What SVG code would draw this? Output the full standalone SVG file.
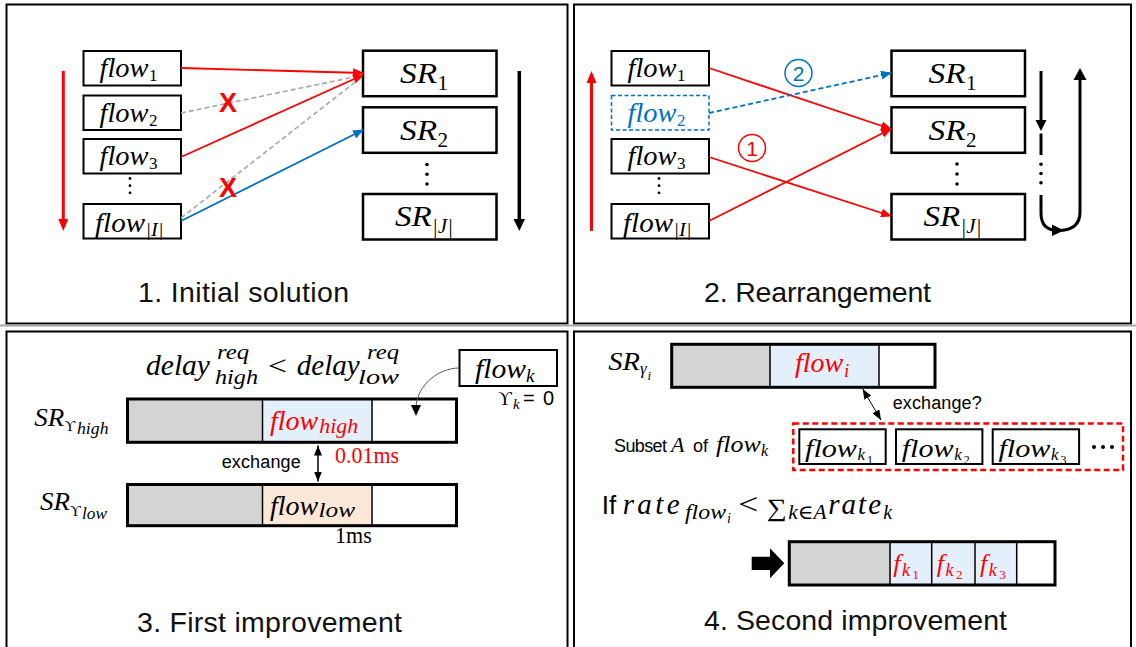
<svg xmlns="http://www.w3.org/2000/svg" width="1136" height="647" viewBox="0 0 1136 647">
<style>
.frame{fill:#fff;stroke:#000;stroke-width:2}
.box{fill:#fff;stroke:#000;stroke-width:2}
.srbox{fill:#fff;stroke:#000;stroke-width:2.5}
.m{font-family:"Liberation Serif","DejaVu Serif",serif;font-style:italic;fill:#000}
.u{font-family:"Liberation Serif","DejaVu Serif",serif;font-style:normal;fill:#000}
.s{font-family:"Liberation Sans",Arial,sans-serif;fill:#000}
.title{font-family:"Liberation Sans",Arial,sans-serif;font-size:28.5px;fill:#111}
.red{stroke:#ff0000;stroke-width:1.8;fill:none}
.blue{stroke:#0070c0;stroke-width:1.8;fill:none}
.gray{stroke:#a6a6a6;stroke-width:1.6;stroke-dasharray:5 3;fill:none}
.bar{fill:none;stroke:#000;stroke-width:3}
.div{stroke:#000;stroke-width:1.5}
.g{fill:#d4d4d4}
.lb{fill:#e3effa}
.pe{fill:#fce8d8}
.xm{font-family:"Liberation Sans",Arial,sans-serif;font-weight:bold;font-size:27px;fill:#ff0000}
</style>
<defs>
<marker id="ahr" markerUnits="userSpaceOnUse" markerWidth="11" markerHeight="9" refX="10" refY="4.5" orient="auto"><path d="M0,0 L11,4.5 L0,9 z" fill="#ff0000"/></marker>
<marker id="ahb" markerUnits="userSpaceOnUse" markerWidth="11" markerHeight="9" refX="10" refY="4.5" orient="auto"><path d="M0,0 L11,4.5 L0,9 z" fill="#0070c0"/></marker>
<marker id="ahk" markerUnits="userSpaceOnUse" markerWidth="10" markerHeight="8" refX="10" refY="4" orient="auto"><path d="M0,0 L10,4 L0,8 z" fill="#000"/></marker>
<marker id="ahks" markerUnits="userSpaceOnUse" markerWidth="10" markerHeight="8" refX="0" refY="4" orient="auto"><path d="M10,0 L0,4 L10,8 z" fill="#000"/></marker>
</defs>
<rect width="1136" height="647" fill="#fff"/>

<g id="frames">
<rect class="frame" x="6.5" y="4.5" width="561" height="319"/>
<rect class="frame" x="574" y="4.5" width="557" height="319"/>
<line x1="0" y1="325.5" x2="1136" y2="325.5" stroke="#a8a8a8" stroke-width="2"/>
<rect class="frame" x="6.5" y="331.5" width="561" height="330"/>
<rect class="frame" x="574" y="331.5" width="557" height="330"/>
</g>

<!-- ===== Panel 1 ===== -->
<g id="p1-flow1"><rect class="box" x="83.5" y="51" width="97.5" height="34.5"/><text class="m" x="99.5" y="77" font-size="27" textLength="49" lengthAdjust="spacingAndGlyphs">flow</text><text class="u" x="149" y="81" font-size="17">1</text></g>
<g id="p1-flow2"><rect class="box" x="83.5" y="95.5" width="97.5" height="34.5"/><text class="m" x="99.5" y="121.5" font-size="27" textLength="49" lengthAdjust="spacingAndGlyphs">flow</text><text class="u" x="149" y="125.5" font-size="17">2</text></g>
<g id="p1-flow3"><rect class="box" x="83.5" y="139" width="97.5" height="34.5"/><text class="m" x="99.5" y="165" font-size="27" textLength="49" lengthAdjust="spacingAndGlyphs">flow</text><text class="u" x="149" y="169" font-size="17">3</text></g>
<g id="p1-dots-l"><circle cx="130" cy="178.5" r="1.4"/><circle cx="130" cy="185.7" r="1.4"/><circle cx="130" cy="192.8" r="1.4"/></g>
<g id="p1-flowI"><rect class="box" x="83.5" y="204" width="97.5" height="34.5"/><text class="m" x="95" y="231.5" font-size="27" textLength="50" lengthAdjust="spacingAndGlyphs">flow</text><text class="m" x="145.5" y="236" font-size="18" textLength="18" lengthAdjust="spacingAndGlyphs">|I|</text></g>

<g id="p1-SR1"><rect class="srbox" x="363" y="50.7" width="133.5" height="45.5" stroke="#ff0000"/><text class="m" x="400" y="83" font-size="29" textLength="37" lengthAdjust="spacingAndGlyphs">SR</text><text class="u" x="437.5" y="90" font-size="21">1</text></g>
<g id="p1-SR2"><rect class="srbox" x="363" y="107.3" width="133.5" height="45.5" stroke="#0070c0"/><text class="m" x="400" y="139.6" font-size="29" textLength="37" lengthAdjust="spacingAndGlyphs">SR</text><text class="u" x="437.5" y="146.6" font-size="21">2</text></g>
<g id="p1-dots-r"><circle cx="427" cy="164.5" r="1.8"/><circle cx="427" cy="174.3" r="1.8"/><circle cx="427" cy="184" r="1.8"/></g>
<g id="p1-SRJ"><rect class="srbox" x="363" y="194" width="133.5" height="45.5"/><text class="m" x="395" y="225.5" font-size="29" textLength="36.7" lengthAdjust="spacingAndGlyphs">SR</text><text class="m" x="432" y="233" font-size="21" textLength="21" lengthAdjust="spacingAndGlyphs">|J|</text></g>

<g id="p1-connectors">
<line class="gray" x1="181" y1="113" x2="361" y2="75.5"/>
<line class="gray" x1="181" y1="218" x2="361" y2="77.5"/>
<line class="red" x1="181" y1="68" x2="363" y2="73" marker-end="url(#ahr)"/>
<line class="red" x1="181" y1="157" x2="363" y2="75" marker-end="url(#ahr)"/>
<line class="blue" x1="181" y1="221" x2="363" y2="130" marker-end="url(#ahb)"/>
<line x1="63.3" y1="71" x2="63.3" y2="220" stroke="#ff0000" stroke-width="3"/>
<polygon points="58.3,219 68.3,219 63.3,231" fill="#ff0000"/>
<line x1="519.3" y1="71" x2="519.3" y2="220" stroke="#000" stroke-width="3.5"/>
<polygon points="513.5,219 525,219 519.3,231" fill="#000"/>
</g>
<g id="p1-marks">
<text class="xm" x="228" y="111.5" text-anchor="middle">X</text>
<text class="xm" x="228" y="196.5" text-anchor="middle">X</text>
</g>
<text class="title" x="138" y="301.5" textLength="211">1. Initial solution</text>

<!-- ===== Panel 2 ===== -->
<g id="p2-flow1"><rect class="box" x="611.5" y="51" width="97.5" height="34.5"/><text class="m" x="627.5" y="77" font-size="27" textLength="49" lengthAdjust="spacingAndGlyphs">flow</text><text class="u" x="677" y="81" font-size="17">1</text></g>
<g id="p2-flow2"><rect x="611.5" y="95.5" width="97.5" height="34.5" fill="#fff" stroke="#0070c0" stroke-width="1.5" stroke-dasharray="4 2.5"/><text class="m" x="627.5" y="121.5" font-size="27" textLength="49" lengthAdjust="spacingAndGlyphs" style="fill:#0070c0">flow</text><text class="u" x="677" y="125.5" font-size="17" style="fill:#0070c0">2</text></g>
<g id="p2-flow3"><rect class="box" x="611.5" y="139" width="97.5" height="34.5"/><text class="m" x="627.5" y="165" font-size="27" textLength="49" lengthAdjust="spacingAndGlyphs">flow</text><text class="u" x="677" y="169" font-size="17">3</text></g>
<g id="p2-dots-l"><circle cx="659" cy="178.5" r="1.4"/><circle cx="659" cy="185.7" r="1.4"/><circle cx="659" cy="192.8" r="1.4"/></g>
<g id="p2-flowI"><rect class="box" x="611.5" y="204" width="97.5" height="34.5"/><text class="m" x="623" y="231.5" font-size="27" textLength="50" lengthAdjust="spacingAndGlyphs">flow</text><text class="m" x="673.5" y="236" font-size="18" textLength="18" lengthAdjust="spacingAndGlyphs">|I|</text></g>

<g id="p2-SR1"><rect class="srbox" x="891.5" y="50.7" width="133.5" height="45.5"/><text class="m" x="928.5" y="83" font-size="29" textLength="37" lengthAdjust="spacingAndGlyphs">SR</text><text class="u" x="966" y="90" font-size="21">1</text></g>
<g id="p2-SR2"><rect class="srbox" x="891.5" y="107.3" width="133.5" height="45.5"/><text class="m" x="928.5" y="139.6" font-size="29" textLength="37" lengthAdjust="spacingAndGlyphs">SR</text><text class="u" x="966" y="146.6" font-size="21">2</text></g>
<g id="p2-dots-r"><circle cx="957" cy="164" r="1.8"/><circle cx="957" cy="174" r="1.8"/><circle cx="957" cy="184" r="1.8"/></g>
<g id="p2-SRJ"><rect class="srbox" x="891.5" y="194" width="133.5" height="45.5"/><text class="m" x="923.5" y="225.5" font-size="29" textLength="36.7" lengthAdjust="spacingAndGlyphs">SR</text><text class="m" x="960.5" y="233" font-size="21" textLength="21" lengthAdjust="spacingAndGlyphs">|J|</text></g>

<g id="p2-connectors">
<line class="red" x1="709" y1="68" x2="891" y2="129" marker-end="url(#ahr)"/>
<line class="red" x1="709" y1="157" x2="891" y2="216" marker-end="url(#ahr)"/>
<line class="red" x1="709" y1="221" x2="891" y2="129" marker-end="url(#ahr)"/>
<line class="blue" x1="709" y1="113" x2="891" y2="73" stroke-dasharray="5 3" marker-end="url(#ahb)"/>
<line x1="591.5" y1="231" x2="591.5" y2="82" stroke="#ff0000" stroke-width="3"/>
<polygon points="586.5,83 596.5,83 591.5,71" fill="#ff0000"/>
<line x1="1041" y1="71" x2="1041" y2="121" stroke="#000" stroke-width="3"/>
<polygon points="1035.5,120 1046.5,120 1041,131" fill="#000"/>
<line x1="1041" y1="133.5" x2="1041" y2="155" stroke="#000" stroke-width="3"/>
<circle cx="1041" cy="164.3" r="1.8"/><circle cx="1041" cy="173.5" r="1.8"/><circle cx="1041" cy="182.7" r="1.8"/>
<path d="M1041,195 L1041,213 Q1041,230.5 1058,230.5 Q1080,230.5 1080,212 L1080,79" fill="none" stroke="#000" stroke-width="3"/>
<polygon points="1073.5,80 1086.5,80 1080,68" fill="#000"/>
<polygon points="1052,224.5 1064,230.5 1052,236" fill="#000"/>
</g>
<g id="p2-badge2"><circle cx="798.5" cy="73" r="13.5" fill="none" stroke="#0070c0" stroke-width="1.5"/><text class="s" x="798.5" y="80.5" font-size="21" text-anchor="middle" style="fill:#0070c0">2</text></g>
<g id="p2-badge1"><circle cx="752" cy="148" r="13.5" fill="none" stroke="#ff0000" stroke-width="1.5"/><text class="s" x="752" y="155.5" font-size="21" text-anchor="middle" style="fill:#ff0000">1</text></g>
<text class="title" x="704" y="301.5" textLength="227">2. Rearrangement</text>

<!-- ===== Panel 3 ===== -->
<g id="p3-formula">
<text class="m" x="146" y="375" font-size="29" textLength="64" lengthAdjust="spacingAndGlyphs">delay</text>
<text class="m" x="217" y="358.5" font-size="20" textLength="32" lengthAdjust="spacingAndGlyphs">req</text>
<text class="m" x="215" y="383.5" font-size="20" textLength="43" lengthAdjust="spacingAndGlyphs">high</text>
<text class="u" x="268" y="375" font-size="28" textLength="19" lengthAdjust="spacingAndGlyphs">&lt;</text>
<text class="m" x="296.7" y="375" font-size="29" textLength="63" lengthAdjust="spacingAndGlyphs">delay</text>
<text class="m" x="367" y="358.5" font-size="20" textLength="32" lengthAdjust="spacingAndGlyphs">req</text>
<text class="m" x="358" y="383.5" font-size="21" textLength="41" lengthAdjust="spacingAndGlyphs">low</text>
</g>
<g id="p3-flowk">
<rect class="box" x="459.5" y="350" width="97.5" height="36"/>
<text class="m" x="475" y="378.3" font-size="27" textLength="51" lengthAdjust="spacingAndGlyphs">flow</text>
<text class="m" x="526" y="382" font-size="19">k</text>
<text class="u" x="498" y="405" font-size="19">ϒ</text>
<text class="m" x="513" y="409" font-size="15">k</text>
<text class="s" x="523" y="405" font-size="20" textLength="31">= 0</text>
</g>
<g id="p3-SRhigh">
<text class="m" x="34.3" y="425.7" font-size="25" textLength="30" lengthAdjust="spacingAndGlyphs">SR</text>
<text class="u" x="64.5" y="431" font-size="15">ϒ</text>
<text class="m" x="77" y="434.3" font-size="17" textLength="31.5" lengthAdjust="spacingAndGlyphs">high</text>
<rect class="g" x="127.5" y="399" width="135" height="43.3"/>
<rect class="lb" x="262.5" y="399" width="109.5" height="43.3"/>
<line class="div" x1="262.5" y1="399" x2="262.5" y2="442.3"/>
<line class="div" x1="372" y1="399" x2="372" y2="442.3"/>
<rect class="bar" x="127.5" y="399" width="329" height="43.3"/>
<text class="m" x="270" y="430" font-size="27" textLength="48.3" lengthAdjust="spacingAndGlyphs" style="fill:#ff0000">flow</text>
<text class="m" x="319.3" y="433" font-size="20" textLength="39" lengthAdjust="spacingAndGlyphs" style="fill:#ff0000">high</text>
</g>
<g id="p3-SRlow">
<text class="m" x="40" y="510" font-size="25" textLength="30" lengthAdjust="spacingAndGlyphs">SR</text>
<text class="u" x="70" y="515.7" font-size="15">ϒ</text>
<text class="m" x="82" y="519" font-size="17" textLength="25" lengthAdjust="spacingAndGlyphs">low</text>
<rect class="g" x="127.5" y="484.5" width="135" height="41.2"/>
<rect class="pe" x="262.5" y="484.5" width="109.5" height="41.2"/>
<line class="div" x1="262.5" y1="484.5" x2="262.5" y2="525.7"/>
<line class="div" x1="372" y1="484.5" x2="372" y2="525.7"/>
<rect class="bar" x="127.5" y="484.5" width="329" height="41.2"/>
<text class="m" x="270" y="515" font-size="27" textLength="48.3" lengthAdjust="spacingAndGlyphs">flow</text>
<text class="m" x="318.5" y="517" font-size="20" textLength="36.5" lengthAdjust="spacingAndGlyphs">low</text>
</g>
<g id="p3-connectors">
<line x1="318" y1="445.5" x2="318" y2="481.5" stroke="#000" stroke-width="1.5" marker-start="url(#ahks)" marker-end="url(#ahk)"/>
<path d="M459.5,368 C438,368 418,385 416,406" fill="none" stroke="#555" stroke-width="1"/>
<polygon points="411,405 421,405 416,416" fill="#000"/>
</g>
<g id="p3-labels">
<text class="s" x="221.7" y="468.3" font-size="18" textLength="79">exchange</text>
<text class="u" x="335" y="463.3" font-size="23" textLength="64" lengthAdjust="spacingAndGlyphs" style="fill:#ff0000">0.01ms</text>
<text class="u" x="335" y="543.3" font-size="23" textLength="36.7" lengthAdjust="spacingAndGlyphs">1ms</text>
</g>
<text class="title" x="137" y="631.5" textLength="265">3. First improvement</text>

<!-- ===== Panel 4 ===== -->
<g id="p4-SRi">
<text class="m" x="608.3" y="370" font-size="25" textLength="31.7" lengthAdjust="spacingAndGlyphs">SR</text>
<text class="m" x="640" y="374" font-size="17">γ</text>
<text class="m" x="647.5" y="380" font-size="13">i</text>
<rect class="g" x="671.7" y="344.3" width="98.3" height="43"/>
<rect class="lb" x="770" y="344.3" width="109" height="43"/>
<line class="div" x1="770" y1="344.3" x2="770" y2="387.3"/>
<line class="div" x1="879" y1="344.3" x2="879" y2="387.3"/>
<rect class="bar" x="671.7" y="344.3" width="263.3" height="43"/>
<text class="m" x="795" y="371.7" font-size="27" textLength="48.3" lengthAdjust="spacingAndGlyphs" style="fill:#ff0000">flow</text>
<text class="m" x="844" y="377" font-size="19" style="fill:#ff0000">i</text>
</g>
<g id="p4-connector">
<line x1="862.7" y1="389" x2="881" y2="420" stroke="#000" stroke-width="1" marker-start="url(#ahks)" marker-end="url(#ahk)"/>
</g>
<text class="s" x="892.7" y="409" font-size="18" textLength="89">exchange?</text>
<g id="p4-subset-label">
<text class="s" x="614" y="452.3" font-size="18" textLength="53">Subset</text>
<text class="m" x="671" y="452.3" font-size="22">A</text>
<text class="s" x="693" y="452.3" font-size="18">of</text>
<text class="m" x="716" y="452.3" font-size="24" textLength="44.7" lengthAdjust="spacingAndGlyphs">flow</text>
<text class="m" x="761" y="456" font-size="16">k</text>
</g>
<g id="p4-subset">
<rect x="793.3" y="423.5" width="329.7" height="46.5" fill="none" stroke="#ff0000" stroke-width="2.5" stroke-dasharray="6 3.5"/>
<rect class="box" x="799.3" y="429.3" width="86.4" height="34.7"/>
<text class="m" x="805" y="456.7" font-size="26" textLength="52" lengthAdjust="spacingAndGlyphs">flow</text><text class="m" x="857.5" y="460" font-size="17">k</text><text class="u" x="867" y="464" font-size="12">1</text>
<rect class="box" x="896" y="429.3" width="86.4" height="34.7"/>
<text class="m" x="901.7" y="456.7" font-size="26" textLength="52" lengthAdjust="spacingAndGlyphs">flow</text><text class="m" x="954.2" y="460" font-size="17">k</text><text class="u" x="963.7" y="464" font-size="12">2</text>
<rect class="box" x="992.7" y="429.3" width="86.4" height="34.7"/>
<text class="m" x="998.4" y="456.7" font-size="26" textLength="52" lengthAdjust="spacingAndGlyphs">flow</text><text class="m" x="1050.9" y="460" font-size="17">k</text><text class="u" x="1060.4" y="464" font-size="12">3</text>
<circle cx="1094" cy="447" r="2"/><circle cx="1103" cy="447" r="2"/><circle cx="1112" cy="447" r="2"/>
</g>
<g id="p4-condition">
<text class="s" x="601.7" y="513.7" font-size="26">If</text>
<text class="m" x="622.7" y="513.7" font-size="29" letter-spacing="3.4">rate</text>
<text class="m" x="685" y="518.7" font-size="20" textLength="41" lengthAdjust="spacingAndGlyphs">flow</text>
<text class="m" x="727" y="523" font-size="14">i</text>
<text class="u" x="738.3" y="514" font-size="29" textLength="20" lengthAdjust="spacingAndGlyphs">&lt;</text>
<text class="u" x="766.7" y="516" font-size="25" textLength="20" lengthAdjust="spacingAndGlyphs">∑</text>
<text class="m" x="788.3" y="518.7" font-size="20" textLength="38.4" lengthAdjust="spacingAndGlyphs">k∈A</text>
<text class="m" x="828.3" y="513.7" font-size="29" letter-spacing="2">rate</text>
<text class="m" x="883.3" y="518.7" font-size="20">k</text>
</g>
<g id="p4-result">
<polygon points="751.7,556.7 770,556.7 770,548.3 784.3,563.3 770,578.3 770,570 751.7,570" fill="#000"/>
<rect class="g" x="789.3" y="541.7" width="100.7" height="43.3"/>
<rect class="lb" x="890" y="541.7" width="126.7" height="43.3"/>
<line class="div" x1="890" y1="541.7" x2="890" y2="585"/>
<line class="div" x1="931.7" y1="541.7" x2="931.7" y2="585"/>
<line class="div" x1="975" y1="541.7" x2="975" y2="585"/>
<line class="div" x1="1016.7" y1="541.7" x2="1016.7" y2="585"/>
<rect class="bar" x="789.3" y="541.7" width="265.7" height="43.3"/>
<text class="m" x="893.3" y="571.7" font-size="26" style="fill:#ff0000">f</text><text class="m" x="902" y="576" font-size="18" style="fill:#ff0000">k</text><text class="u" x="912.5" y="579" font-size="13" style="fill:#ff0000">1</text>
<text class="m" x="936.7" y="571.7" font-size="26" style="fill:#ff0000">f</text><text class="m" x="945.4" y="576" font-size="18" style="fill:#ff0000">k</text><text class="u" x="955.9" y="579" font-size="13" style="fill:#ff0000">2</text>
<text class="m" x="980" y="571.7" font-size="26" style="fill:#ff0000">f</text><text class="m" x="988.7" y="576" font-size="18" style="fill:#ff0000">k</text><text class="u" x="999.2" y="579" font-size="13" style="fill:#ff0000">3</text>
</g>
<text class="title" x="704" y="630" textLength="303">4. Second improvement</text>
</svg>
